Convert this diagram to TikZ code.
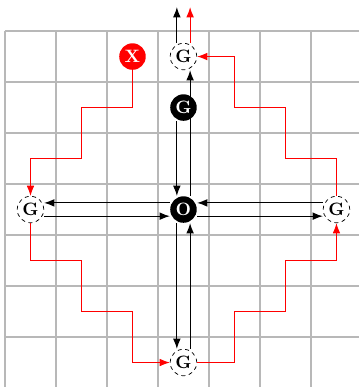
\documentclass[tikz,border=0pt]{standalone}
\usetikzlibrary{arrows.meta}

\begin{document}
\begin{tikzpicture}[
    cell/.style={draw=black!28, line width=0.8pt},
    goal/.style={circle, draw=black, dashed, dash pattern=on 2.2pt off 2pt,
                 minimum size=0.52cm, inner sep=0pt, font=\normalsize\bfseries},
    filled/.style={circle, fill=black, text=white,
                   minimum size=0.52cm, inner sep=0pt, font=\normalsize\bfseries},
    bad/.style={filled, fill=red},
    move/.style={-{Latex}, line width=0.6pt, black},
    route/.style={-{Latex}, line width=0.6pt, red},
]
\def\off{0.13cm}

% Frame and grid
\useasboundingbox (-0.098,0.02) rectangle (6.94,7.609);
\draw[cell] (0,0) grid (7,7);

% Nodes
\node[bad]  (X)  at (2.5,6.5) {X};
\node[goal] (Gt) at (3.5,6.5) {G};
\node[filled] (O) at (3.5,3.5) {O};
\node[goal] (Gl) at (0.5,3.5) {G};
\node[goal] (Gr) at (6.5,3.5) {G};
\node[goal] (Gd) at (3.5,0.5) {G};

% Free ends above the grid
\coordinate (outl) at ([xshift=-\off]3.5,7.47);
\coordinate (outr) at ([xshift=\off]3.5,7.47);

% O <-> side goals
\draw[move] ([yshift=\off]O.west) -- ([yshift=\off]Gl.east);
\draw[move] ([yshift=-\off]Gl.east) -- ([yshift=-\off]O.west);
\draw[move] ([yshift=\off]Gr.west) -- ([yshift=\off]O.east);
\draw[move] ([yshift=-\off]O.east) -- ([yshift=-\off]Gr.west);
\draw[move] ([xshift=-\off]O.south) -- ([xshift=-\off]Gd.north);
\draw[move] ([xshift=\off]Gd.north) -- ([xshift=\off]O.south);
\draw[move] ([xshift=\off]O.north) -- ([xshift=\off]Gt.south);

% Inner goal on top of the up path
\node[filled] (Gb) at (3.5,5.5) {G};
\draw[move] ([xshift=-\off]Gb.south) -- ([xshift=-\off]O.north);

% Leaving the grid
\draw[move] ([xshift=-\off]Gt.north) -- (outl);
\draw[route] ([xshift=\off]Gt.north) -- (outr);

% Red staircase round the goals
\draw[route] (X) |- (1.5,5.5) |- (0.5,4.5) -- (Gl);
\draw[route] (Gl) |- (1.5,2.5) |- (2.5,1.5) |- (Gd);
\draw[route] (Gd) -| (4.5,1.5) -| (5.5,2.5) -| (Gr);
\draw[route] (Gr) |- (5.5,4.5) |- (4.5,5.5) |- (Gt);

\end{tikzpicture}
\end{document}
